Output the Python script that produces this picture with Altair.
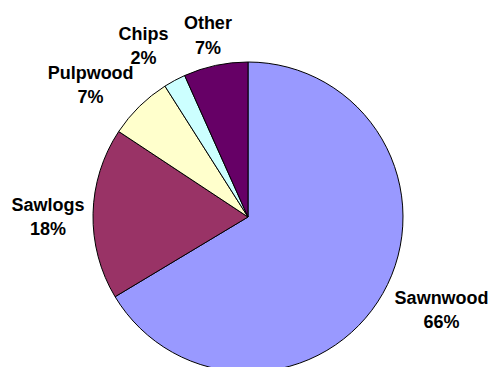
import math
import altair as alt
import pandas as pd

categories = ["Sawnwood", "Sawlogs", "Pulpwood", "Chips", "Other"]
shares = [66.4, 17.9, 6.7, 2.3, 6.7]
colors = ["#9999FF", "#993366", "#FFFFCC", "#CCFFFF", "#660066"]

df = pd.DataFrame({
    "category": categories,
    "share": shares,
    "order": list(range(len(categories))),
    "label": [f"{c}\n{round(s)}%" for c, s in zip(categories, shares)],
})
total = sum(shares)

CX, CY, R = 248, 217, 155
theta_scale = alt.Scale(domain=[0, total], range=[0, 2 * math.pi])
base = alt.Chart(df)

pie = base.mark_arc(outerRadius=R, stroke="black", strokeWidth=1).encode(
    theta=alt.Theta("share:Q", stack=True, scale=theta_scale),
    color=alt.Color("category:N", scale=alt.Scale(domain=categories, range=colors), legend=None),
    order=alt.Order("order:Q"),
    x=alt.value(CX),
    y=alt.value(CY),
)

# label placement style: (radius, dx, dy)
placement = {
    "Sawnwood": (211, 10, -17),
    "Sawlogs": (200, 0, -2),
    "Pulpwood": (209, -11, 11),
    "Chips": (206, -7, 4),
    "Other": (192, 0, 0),
}


def label(cat):
    radius, dx, dy = placement[cat]
    return (
        base.transform_window(cum="sum(share)", sort=[alt.SortField("order")], frame=[None, 0])
        .transform_calculate(mid="datum.cum - datum.share / 2")
        .transform_filter(alt.FieldEqualPredicate(field="category", equal=cat))
        .mark_text(
            radius=radius, dx=dx, dy=dy, align="center", baseline="alphabetic",
            font="Liberation Sans", fontSize=18, fontWeight="bold",
            lineBreak="\n", lineHeight=24.5, color="black",
        )
        .encode(
            theta=alt.Theta("mid:Q", stack=None, scale=theta_scale),
            text="label:N",
            x=alt.value(CX),
            y=alt.value(CY),
        )
    )


chart = alt.layer(pie, *[label(c) for c in categories]).properties(
    width=494, height=367, padding=0, autosize=alt.AutoSizeParams(type="none")
).configure_view(stroke=None)

chart.save("out.html", embed_options={"renderer": "svg", "actions": False})
